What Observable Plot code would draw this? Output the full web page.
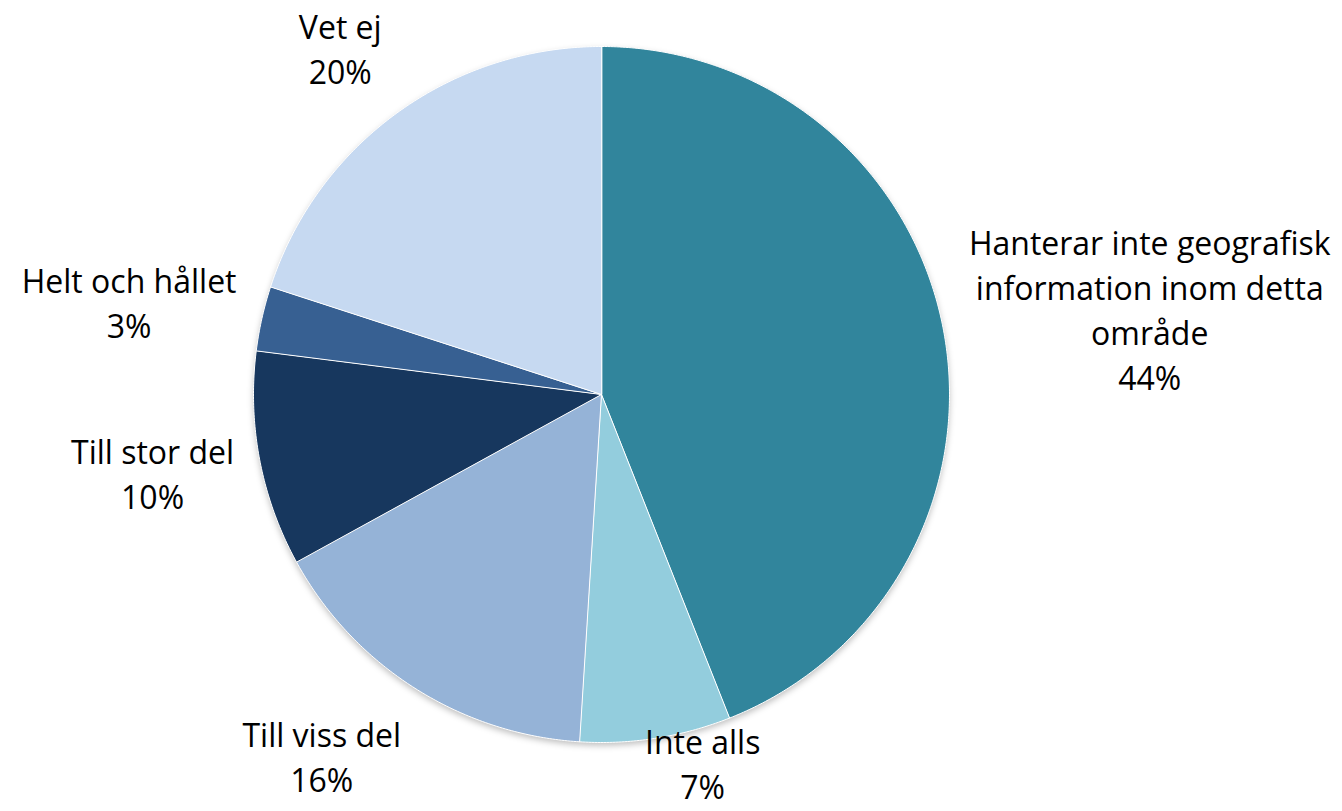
<!DOCTYPE html>
<html>
<head>
<meta charset="utf-8">
<script src="https://cdn.jsdelivr.net/npm/d3@7"></script>
<script src="https://cdn.jsdelivr.net/npm/@observablehq/plot@0.6"></script>
<style>
  html, body { margin: 0; padding: 0; background: #fff; }
  #chart svg { display: block; }
</style>
</head>
<body>
<div id="chart"></div>
<script>
// Answer categories, clockwise from 12 o'clock
const categories = [
  "Hanterar inte geografisk\ninformation inom detta\nområde",
  "Inte alls",
  "Till viss del",
  "Till stor del",
  "Helt och hållet",
  "Vet ej"
];
// Share of respondents (%)
const shares = [44, 7, 16, 10, 3, 20];
// Slice colours
const colors = ["#31859C", "#93CDDD", "#95B3D7", "#17375E", "#376092", "#C6D9F1"];

// Layout
const W = 1342, H = 811;
const centerX = 601, centerY = 394, R = 348;
const fontFamily = "'Open Sans', Lato, sans-serif";
const fontSize = 32, lineHeightPx = 45, labelGap = 26;

const slices = categories.map((c, i) => ({cat: c, share: shares[i]}));
const arcs = d3.pie().sort(null).value(d => d.share)(slices);

// Slice outlines in unit-circle coordinates (angle 0 = top, clockwise)
const step = Math.PI / 360;
const slicePts = arcs.flatMap(a => {
  const pts = [{cat: a.data.cat, x: 0, y: 0}];
  const n = Math.max(2, Math.ceil((a.endAngle - a.startAngle) / step));
  for (let k = 0; k <= n; k++) {
    const t = a.startAngle + (a.endAngle - a.startAngle) * k / n;
    pts.push({cat: a.data.cat, x: Math.sin(t), y: Math.cos(t)});
  }
  return pts;
});
const discPts = d3.range(0, 720).map(k => {
  const t = k * step;
  return {x: Math.sin(t), y: Math.cos(t)};
});

// Label boxes: an anchor just outside the slice's mid angle, with the box
// hanging off that anchor on the side facing away from the pie
const ctx = document.createElement("canvas").getContext("2d");
ctx.font = `${fontSize}px ${fontFamily}`;
const side = u => Math.sign(u) * Math.min(1, Math.max(0, (Math.abs(u) - 0.12) / 0.38));
const labels = arcs.map(a => {
  const text = `${a.data.cat}\n${a.data.share}%`;
  const lines = text.split("\n");
  const w = d3.max(lines, l => ctx.measureText(l).width);
  const h = lines.length * lineHeightPx;
  const mid = (a.startAngle + a.endAngle) / 2;
  const ux = Math.sin(mid), uy = -Math.cos(mid);
  const r = R + labelGap;
  let px = centerX + r * ux + side(ux) * w / 2;
  let py = centerY + r * uy + side(uy) * h / 2;
  // keep the box inside the chart area, sliding it sideways when pushed up
  const maxY = H - 4 - h / 2;
  if (py > maxY) {
    px += (py - maxY) * 0.8 * Math.sign(ux);
    py = maxY;
  }
  py = Math.max(py, h / 2 - 8);
  px = Math.min(px, W - 2 - w / 2);
  return {text, x: (px - centerX) / R, y: (centerY - py) / R};
});

const chart = Plot.plot({
  width: W,
  height: H,
  margin: 0,
  x: {domain: [-1, 1], range: [centerX - R, centerX + R], axis: null},
  y: {domain: [-1, 1], range: [centerY + R, centerY - R], axis: null},
  color: {domain: categories, range: colors},
  style: {fontFamily, background: "#fff"},
  marks: [
    // soft drop shadow under the pie
    Plot.line(discPts, {
      x: "x", y: "y", fill: "#000", fillOpacity: 0.25, stroke: "none", dy: 3,
      curve: "linear-closed", imageFilter: "blur(3px)"
    }),
    Plot.line(slicePts, {
      x: "x", y: "y", z: "cat", fill: "cat",
      stroke: "#fff", strokeWidth: 1, curve: "linear-closed"
    }),
    Plot.text(labels, {
      x: "x", y: "y", text: "text",
      fontSize, lineHeight: lineHeightPx / fontSize,
      fill: "#000", textAnchor: "middle", lineAnchor: "middle"
    })
  ]
});
document.getElementById("chart").append(chart);
</script>
</body>
</html>
